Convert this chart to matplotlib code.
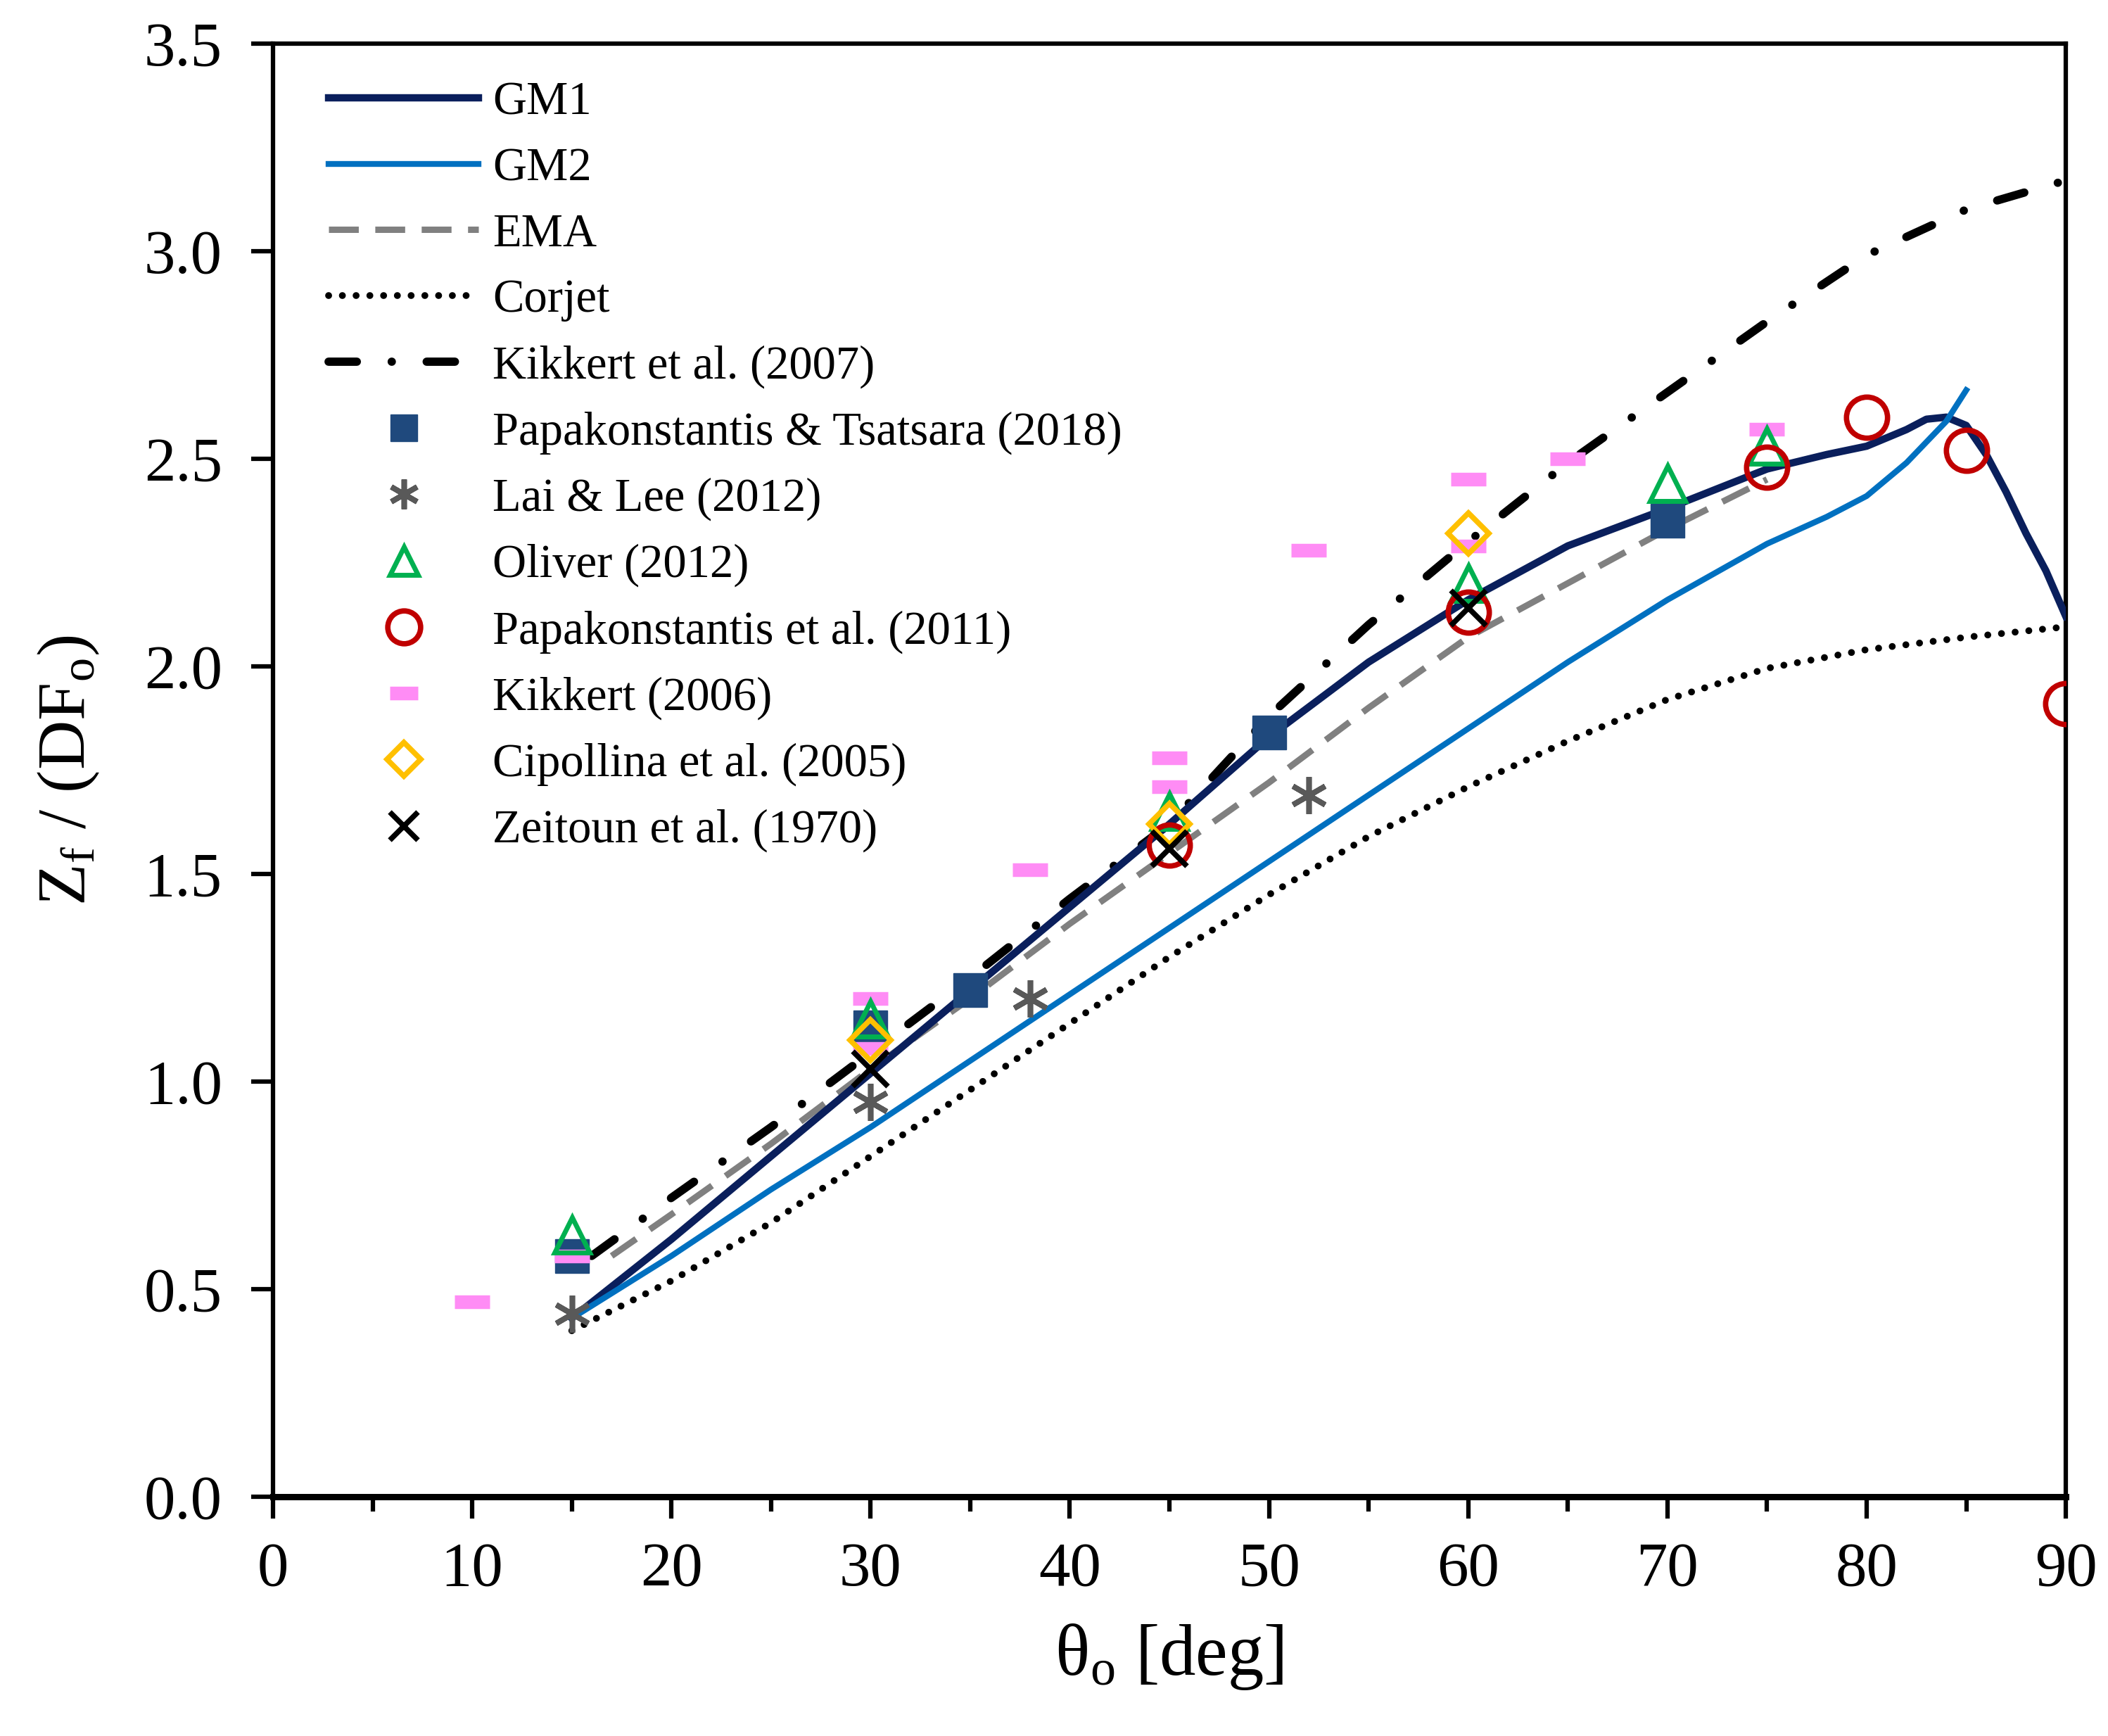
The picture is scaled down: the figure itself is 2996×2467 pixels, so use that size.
import numpy as np
import matplotlib
matplotlib.use('Agg')
import matplotlib.pyplot as plt
from matplotlib.ticker import MultipleLocator, FormatStrFormatter

plt.rcParams['font.family'] = ['Liberation Serif', 'DejaVu Serif']
plt.rcParams['mathtext.fontset'] = 'custom'
plt.rcParams['mathtext.rm'] = 'Liberation Serif'
plt.rcParams['mathtext.it'] = 'Liberation Serif'

# model curves
gm1_x = [15, 20, 25, 30, 35, 40, 45, 50, 55, 60, 65, 70, 75, 78, 80, 81, 82, 83, 84, 85, 86, 87, 88, 89, 90]
gm1_y = [0.43, 0.62, 0.82, 1.02, 1.22, 1.42, 1.62, 1.83, 2.01, 2.16, 2.29, 2.38, 2.475, 2.51, 2.53, 2.55,
         2.57, 2.595, 2.60, 2.58, 2.51, 2.42, 2.32, 2.23, 2.12]

gm2_x = [15, 20, 25, 30, 35, 40, 45, 50, 55, 60, 65, 70, 75, 78, 80, 82, 84, 85]
gm2_y = [0.43, 0.58, 0.74, 0.89, 1.05, 1.21, 1.37, 1.53, 1.69, 1.85, 2.01, 2.16, 2.295, 2.36, 2.41, 2.49, 2.59, 2.665]

ema_x = [17, 20, 25, 30, 35, 40, 45, 50, 55, 60, 65, 70, 75]
ema_y = [0.58, 0.68, 0.85, 1.03, 1.20, 1.38, 1.55, 1.72, 1.90, 2.07, 2.20, 2.33, 2.45]

corjet_x = [15, 20, 25, 30, 35, 40, 45, 50, 55, 60, 65, 70, 75, 80, 85, 90]
corjet_y = [0.40, 0.52, 0.66, 0.82, 0.98, 1.14, 1.30, 1.45, 1.59, 1.71, 1.82, 1.92, 1.995, 2.04, 2.07, 2.095]

kik07_x = [16, 20, 25, 30, 35, 40, 45, 50, 55, 60, 65, 70, 75, 80, 85, 90]
kik07_y = [0.58, 0.72, 0.89, 1.07, 1.25, 1.44, 1.62, 1.88, 2.10, 2.30, 2.49, 2.66, 2.83, 2.99, 3.10, 3.17]

# experimental data
pt18_x = [15, 30, 35, 50, 70]
pt18_y = [0.58, 1.13, 1.22, 1.84, 2.35]

lai_x = [15, 30, 38, 52]
lai_y = [0.44, 0.95, 1.20, 1.69]

oliver_x = [15, 30, 45, 60, 70, 75]
oliver_y = [0.63, 1.15, 1.65, 2.20, 2.44, 2.53]

pap11_x = [45, 60, 75, 80, 85, 90]
pap11_y = [1.57, 2.13, 2.48, 2.60, 2.52, 1.91]

kik06_x = [10, 15, 30, 30, 38, 45, 45, 52, 60, 60, 65, 75]
kik06_y = [0.47, 0.58, 1.20, 1.08, 1.51, 1.78, 1.71, 2.28, 2.45, 2.29, 2.50, 2.57]

cip_x = [30, 45, 60]
cip_y = [1.10, 1.62, 2.32]

zei_x = [30, 45, 60]
zei_y = [1.03, 1.56, 2.14]

fig = plt.figure(figsize=(29.96, 24.67), dpi=100)
ax = fig.add_axes([0.1295, 0.1378, 0.8505, 0.8372])

ax.plot(gm1_x, gm1_y, color='#0a1f5c', lw=7.5, label='GM1', zorder=3)
ax.plot(gm2_x, gm2_y, color='#0070c0', lw=6, label='GM2', zorder=3)
ax.plot(ema_x, ema_y, color='#808080', lw=6.5, ls=(0, (4.7, 2.6)), label='EMA', zorder=2)
ax.plot(corjet_x, corjet_y, color='black', lw=7, ls=(0, (0.01, 2)),
        dash_capstyle='round', label='Corjet', zorder=2)
ax.plot(kik07_x, kik07_y, color='black', lw=8.5, ls=(0, (3.4, 4.2, 0.01, 4.2)),
        dash_capstyle='round', label='Kikkert et al. (2007)', zorder=2)

ax.plot(pt18_x, pt18_y, ls='none', marker='s', ms=34, color='#1f497d',
        label='Papakonstantis & Tsatsara (2018)', zorder=4)
ax.plot(lai_x, lai_y, ls='none', marker=(6, 2, 0), ms=38, mew=5.5, color='#595959',
        label='Lai & Lee (2012)', zorder=4)
ax.plot(oliver_x, oliver_y, ls='none', marker='^', ms=36, mfc='none', mew=5,
        color='#00b050', label='Oliver (2012)', zorder=5)
ax.plot(pap11_x, pap11_y, ls='none', marker='o', ms=42, mfc='none', mew=5.5,
        color='#c00000', label='Papakonstantis et al. (2011)', zorder=5)
ax.plot(kik06_x, kik06_y, ls='none', marker='_', ms=36, mew=14,
        color='#ff8cf5', label='Kikkert (2006)', zorder=4)
ax.plot(cip_x, cip_y, ls='none', marker='D', ms=30, mfc='none', mew=5.5,
        color='#ffc000', label='Cipollina et al. (2005)', zorder=6)
ax.plot(zei_x, zei_y, ls='none', marker='x', ms=36, mew=5.5, color='black',
        label='Zeitoun et al. (1970)', zorder=6)

ax.set_xlim(0, 90)
ax.set_ylim(0, 3.5)
ax.xaxis.set_major_locator(MultipleLocator(10))
ax.xaxis.set_minor_locator(MultipleLocator(5))
ax.yaxis.set_major_locator(MultipleLocator(0.5))
ax.yaxis.set_major_formatter(FormatStrFormatter('%.1f'))
ax.tick_params(axis='both', which='both', direction='out', top=False, right=False,
               labelsize=64, width=4.5)
ax.tick_params(axis='both', which='major', length=22)
ax.tick_params(axis='x', which='minor', length=15)
ax.tick_params(axis='x', which='major', pad=24)
ax.tick_params(axis='y', which='major', pad=30)
for s in ax.spines.values():
    s.set_linewidth(4.5)
ax.spines['bottom'].set_linewidth(6.5)

ax.set_xlabel(r'$\mathrm{\theta_o}$ [deg]', fontsize=74, labelpad=24)
ax.set_ylabel(r'$\mathrm{Z_f}$ / (D$\mathrm{F_o}$)', fontsize=70, labelpad=44)

leg = ax.legend(loc='upper left', fontsize=48, frameon=False, handlelength=3.2,
                labelspacing=0.49, borderaxespad=0, borderpad=0, handletextpad=0.3,
                bbox_to_anchor=(0.031, 0.974))
for h in leg.legend_handles[5:]:
    h.set_markersize(h.get_markersize() * 0.8)

fig.savefig('out.png', dpi=100)
